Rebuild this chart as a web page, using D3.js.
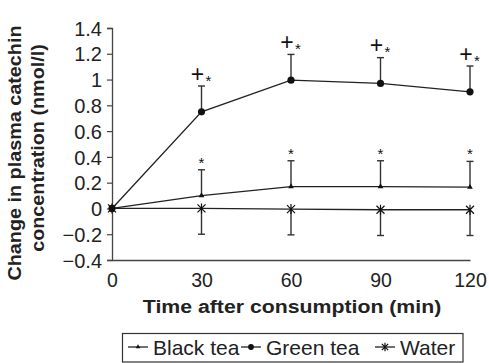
<!DOCTYPE html>
<html>
<head>
<meta charset="utf-8">
<script src="https://cdn.jsdelivr.net/npm/d3@7"></script>
<style>
  body { margin: 0; background: #fff; }
  svg { display: block; font-family: "Liberation Sans", Arial, sans-serif; }
</style>
</head>
<body>
<svg id="chart" width="489" height="363"></svg>
<script>
(function () {
  const times = [0, 30, 60, 90, 120];
  const yTicks = [-0.4, -0.2, 0, 0.2, 0.4, 0.6, 0.8, 1, 1.2, 1.4];

  const blackTea = [0, 0.1, 0.17, 0.17, 0.165];
  const blackTeaErr = [0, 0.2, 0.2, 0.2, 0.2];
  const greenTea = [0, 0.75, 0.995, 0.97, 0.905];
  const greenTeaErr = [0, 0.2, 0.2, 0.2, 0.2];
  const water = [0, 0, -0.005, -0.01, -0.01];
  const waterErr = [0, -0.2, -0.2, -0.2, -0.2];

  const greenMarks = ["", "+*", "+*", "+*", "+*"];
  const blackMarks = ["", "*", "*", "*", "*"];
  const legendLabels = ["Black tea", "Green tea", "Water"];

  const svg = d3.select("#chart");
  const x = d3.scaleLinear().domain([0, 120]).range([112, 470]);
  const y = d3.scaleLinear().domain([-0.4, 1.4]).range([260, 28]);

  // y axis
  const yAxis = svg.append("g")
    .attr("transform", "translate(112,0)")
    .call(d3.axisLeft(y).tickValues(yTicks).tickSize(5).tickPadding(5)
      .tickFormat((d) => String(+d.toFixed(1)).replace("-", "\u2212")));
  yAxis.select(".domain").attr("stroke", "#444").attr("stroke-width", 1.3);
  yAxis.selectAll(".tick line").attr("stroke", "#444").attr("stroke-width", 1.2);
  yAxis.selectAll("text").attr("font-size", 20).attr("fill", "#222").attr("dy", "0.36em");

  // x axis
  const xAxis = svg.append("g")
    .attr("transform", "translate(0,260)")
    .call(d3.axisBottom(x).tickValues(times).tickSize(0).tickPadding(13));
  xAxis.select(".domain").attr("stroke", "#444").attr("stroke-width", 1.3);
  xAxis.selectAll("text").attr("font-size", 19.5).attr("fill", "#222");

  const line = d3.line().x((d, i) => x(times[i])).y((d) => y(d));

  const series = [
    { values: water, err: waterErr, marker: "star" },
    { values: blackTea, err: blackTeaErr, marker: "tri" },
    { values: greenTea, err: greenTeaErr, marker: "dot" },
  ];

  function drawMarker(g, kind, cx, cy, k) {
    k = k || 1;
    if (kind === "dot") {
      g.append("circle").attr("cx", cx).attr("cy", cy).attr("r", 3.6 * k).attr("fill", "#111");
    } else if (kind === "tri") {
      g.append("path")
        .attr("d", d3.symbol(d3.symbolTriangle, 14 * k * k)())
        .attr("transform", `translate(${cx},${cy})`)
        .attr("fill", "#111");
    } else {
      const r = 4 * k;
      g.append("path")
        .attr("d", `M${cx - r},${cy - r}L${cx + r},${cy + r}M${cx - r},${cy + r}L${cx + r},${cy - r}M${cx},${cy - r - 1}L${cx},${cy + r + 1}`)
        .attr("stroke", "#111").attr("stroke-width", 1.2);
    }
  }

  series.forEach((s) => {
    const g = svg.append("g");
    s.values.forEach((v, i) => {
      if (!s.err[i]) return;
      const end = v + s.err[i];
      g.append("line")
        .attr("x1", x(times[i])).attr("x2", x(times[i]))
        .attr("y1", y(v)).attr("y2", y(end))
        .attr("stroke", "#333").attr("stroke-width", 1.4);
      g.append("line")
        .attr("x1", x(times[i]) - 3.5).attr("x2", x(times[i]) + 3.5)
        .attr("y1", y(end)).attr("y2", y(end))
        .attr("stroke", "#333").attr("stroke-width", 1.4);
    });
    g.append("path")
      .datum(s.values)
      .attr("d", line)
      .attr("fill", "none")
      .attr("stroke", "#222")
      .attr("stroke-width", 1.3);
    s.values.forEach((v, i) => drawMarker(g, s.marker, x(times[i]), y(v)));
  });

  // significance marks
  const ann = svg.append("g").attr("fill", "#111");
  greenTea.forEach((v, i) => {
    if (!greenMarks[i]) return;
    const top = y(v + greenTeaErr[i]);
    ann.append("text").attr("x", x(times[i]) - 4).attr("y", top - 4.5)
      .attr("text-anchor", "middle").attr("font-size", 23).text("+");
    ann.append("text").attr("x", x(times[i]) + 7).attr("y", top - 0.5)
      .attr("text-anchor", "middle").attr("font-size", 15).text("*");
  });
  blackTea.forEach((v, i) => {
    if (!blackMarks[i]) return;
    const top = y(v + blackTeaErr[i]);
    ann.append("text").attr("x", x(times[i])).attr("y", top - 2)
      .attr("text-anchor", "middle").attr("font-size", 15).text("*");
  });

  // axis titles
  svg.append("text")
    .attr("transform", "translate(21,153) rotate(-90) scale(1.1,1)")
    .attr("text-anchor", "middle").attr("font-size", 18).attr("font-weight", "bold")
    .attr("fill", "#222").text("Change in plasma catechin");
  svg.append("text")
    .attr("transform", "translate(44,148) rotate(-90) scale(1.1,1)")
    .attr("text-anchor", "middle").attr("font-size", 18).attr("font-weight", "bold")
    .attr("fill", "#222").text("concentration  (nmol/l)");
  svg.append("text")
    .attr("transform", "translate(292,313) scale(1.15,1)")
    .attr("text-anchor", "middle").attr("font-size", 18.5).attr("font-weight", "bold")
    .attr("fill", "#222").text("Time after consumption (min)");

  // legend
  const legend = svg.append("g");
  legend.append("rect").attr("x", 122.5).attr("y", 333.5).attr("width", 340.5).attr("height", 28.5)
    .attr("fill", "none").attr("stroke", "#333").attr("stroke-width", 1.2);
  const legendX = [128, 241, 375];
  const legendMarkers = ["tri", "dot", "star"];
  legendLabels.forEach((label, i) => {
    const lx = legendX[i];
    legend.append("line").attr("x1", lx).attr("x2", lx + 20)
      .attr("y1", 347).attr("y2", 347).attr("stroke", "#222").attr("stroke-width", 1.3);
    drawMarker(legend.append("g"), legendMarkers[i], lx + 10, 347, 0.8);
    legend.append("text").attr("x", lx + 25).attr("y", 354.5)
      .attr("font-size", 21).attr("fill", "#222").text(label);
  });
})();
</script>
</body>
</html>
